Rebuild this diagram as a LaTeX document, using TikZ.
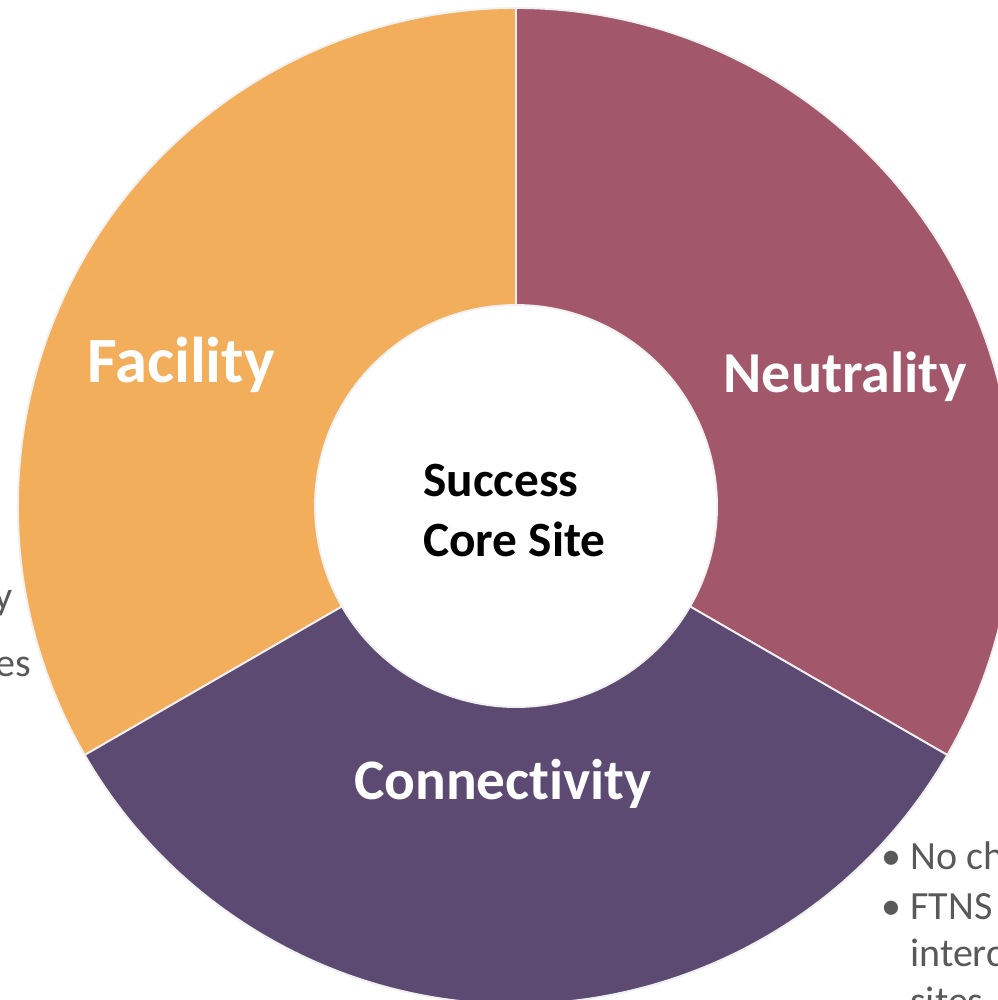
\documentclass[tikz,border=0pt]{standalone}
\usepackage{fontspec}
\setmainfont{Carlito}[Ligatures=NoCommon]
\definecolor{fac}{HTML}{F2AE5A}
\definecolor{neu}{HTML}{A2576B}
\definecolor{con}{HTML}{5C4A72}
\definecolor{txtgray}{HTML}{595959}
\tikzset{
  seg/.style={draw=white!88!gray, line width=1.4pt, line join=round},
  seglabel/.style={text=white, anchor=base, inner sep=0pt},
  corelabel/.style={text=black, font=\fontsize{37}{44}\selectfont\bfseries, anchor=base west, inner sep=0pt},
  sidetext/.style={text=txtgray, font=\fontsize{30}{36}\selectfont, inner sep=0pt}
}
\begin{document}
\begin{tikzpicture}[x=0.75pt,y=0.75pt]
\useasboundingbox (0,0) rectangle (998,1000);
\clip (0,0) rectangle (998,1000);
\coordinate (c) at (516,494);
% Facility
\path[fill=fac,seg] ([shift={(210:373.5pt)}]c) arc[start angle=210,end angle=90,radius=373.5pt]
  -- ([shift={(90:150.75pt)}]c) arc[start angle=90,end angle=210,radius=150.75pt] -- cycle;
% Neutrality
\path[fill=neu,seg] ([shift={(90:373.5pt)}]c) arc[start angle=90,end angle=-30,radius=373.5pt]
  -- ([shift={(-30:150.75pt)}]c) arc[start angle=-30,end angle=90,radius=150.75pt] -- cycle;
% Connectivity
\path[fill=con,seg] ([shift={(-30:373.5pt)}]c) arc[start angle=-30,end angle=-150,radius=373.5pt]
  -- ([shift={(-150:150.75pt)}]c) arc[start angle=-150,end angle=-30,radius=150.75pt] -- cycle;
% labels
\node[seglabel, font=\fontsize{48.5}{58}\selectfont\bfseries] (facility) at (181,617) {Facility};
\node[seglabel, font=\fontsize{43.5}{52}\selectfont\bfseries] (neutrality) at (845,607) {Neutrality};
\node[seglabel, font=\fontsize{43}{52}\selectfont\bfseries] (connectivity) at (503,200) {Connectivity};
\node[corelabel] (core1) at (423,503) {Success};
\node[corelabel] (core2) at (423,443) {Core Site};
% cut-off side texts
\node[sidetext, anchor=base east] (lefty) at (13,390) {y};
\node[sidetext, anchor=base east] (leftes) at (31,323) {es};
\node[sidetext, anchor=base west] (b1) at (881,130) {•\hspace{7pt}No ch};
\node[sidetext, anchor=base west] (b2) at (881,80) {•\hspace{7pt}FTNS};
\node[sidetext, anchor=base west] (b3) at (910,33) {interc};
\node[sidetext, anchor=base west] (b4) at (910,-14) {sites};
\end{tikzpicture}
\end{document}
